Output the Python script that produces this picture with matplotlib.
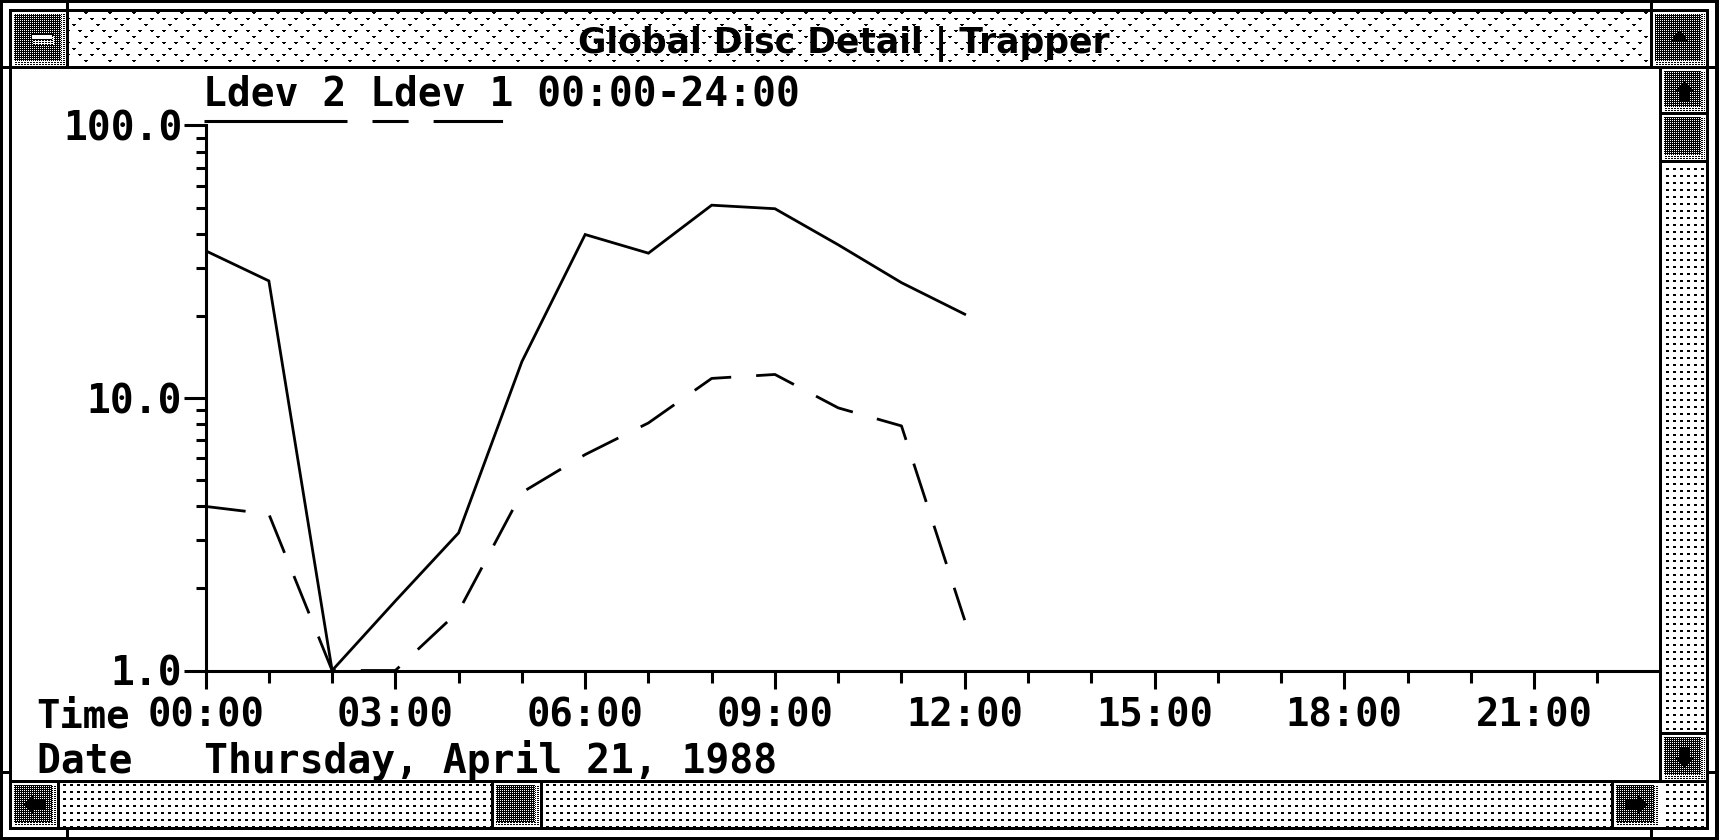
import numpy as np
import matplotlib
matplotlib.use("Agg")
import matplotlib.pyplot as plt
from matplotlib import font_manager
from matplotlib.ticker import FixedLocator, MultipleLocator, LogLocator, FuncFormatter, NullFormatter

# hourly readings (log scale 1..100)
hours = [0, 1, 2, 3, 4, 5, 6, 7, 8, 9, 10, 11, 12]
ldev2 = [34.7, 26.9, 1.0, 1.8, 3.2, 13.6, 39.8, 34.0, 51.0, 49.5, 36.5, 26.5, 20.3]
ldev1 = [4.0, 3.75, 1.0, 1.0, 1.65, 4.5, 6.2, 8.1, 11.8, 12.2, 9.2, 7.9, 1.53]

xticks = [0, 3, 6, 9, 12, 15, 18, 21]
xlabels = ["00:00", "03:00", "06:00", "09:00", "12:00", "15:00", "18:00", "21:00"]
yticks = [1.0, 10.0, 100.0]

window_title = "Global Disc Detail | Trapper"
legend_line = "Ldev 2 Ldev 1 00:00-24:00"
time_label = "Time"
date_line = "Date   Thursday, April 21, 1988"

W, H = 1719, 840

plt.rcParams['font.family'] = 'DejaVu Sans Mono'
plt.rcParams['font.weight'] = 'bold'
plt.rcParams['lines.scale_dashes'] = False

# ---- window chrome, drawn as a 1:1 bitmap ----
img = np.ones((H, W))
yy, xx = np.mgrid[0:H, 0:W]
dark = np.where((xx % 2 == 0) & (yy % 2 == 0), 1.0, 0.0)
track = np.where((xx % 7 < 3) & (yy % 7 < 2), 0.0, 1.0)
shade = np.where((yy % 2 == 0) & (xx % 3 != 2), 0.0, 1.0)
gi, gj = xx // 6, yy // 6
ox, oy = xx % 6, yy % 6
on = (gi % 4 == gj % 4) | (gi % 4 == (-gj) % 4)
tmark = on & (((oy == 0) & (ox < 4)) | ((oy == 1) & (ox >= 1) & (ox < 3)))
tdots = np.where(tmark, 0.0, 1.0)


def box(x0, x1, y0, y1, v=0.0):
    img[y0:y1, x0:x1] = v


def pattern(x0, x1, y0, y1, pat):
    img[y0:y1, x0:x1] = pat[y0:y1, x0:x1]


def button(x0, x1, y0, y1):
    box(x0, x1, y0, y1, 1.0)
    pattern(x0 + 2, x1 - 5, y0 + 2, y1 - 5, dark)
    pattern(x1 - 5, x1 - 1, y0 + 2, y1 - 1, shade)
    pattern(x0 + 2, x1 - 1, y1 - 5, y1 - 1, shade)


def arrow(tx, ty, d, head=10, tip=11, stem=0, half=5):
    if d == 'up':
        u, v = yy - ty, xx - tx
    elif d == 'down':
        u, v = ty - yy, xx - tx
    elif d == 'left':
        u, v = xx - tx, yy - ty
    else:
        u, v = tx - xx, yy - ty
    m = ((u >= 0) & (u < tip) & (np.abs(v) <= u * head / tip)) | \
        ((u >= tip) & (u < tip + stem) & (np.abs(v) < half))
    img[m] = 0.0


# frame
box(0, W, 0, 3); box(0, W, H - 3, H); box(0, 3, 0, H); box(W - 4, W, 0, H)
box(9, 1709, 9, 12); box(9, 1709, 827, 830); box(9, 12, 9, 830); box(1706, 1709, 9, 830)
for x in (66, 1650):
    box(x, x + 3, 3, 9); box(x, x + 3, 830, 837)
for y in (66, 771):
    box(3, 9, y, y + 3); box(1709, 1715, y, y + 3)

# title bar
pattern(69, 1650, 12, 66, tdots)
box(12, 1709, 66, 69)
button(12, 66, 12, 66)
box(31, 53, 34, 40); box(32, 52, 35, 39, 1.0)
pattern(33, 54, 40, 45, shade); pattern(52, 54, 36, 45, shade)
box(66, 69, 12, 66); box(1650, 1653, 12, 66)
button(1653, 1706, 12, 66)
arrow(1679, 30, 'up', head=10, tip=12)

# vertical scrollbar
box(1659, 1662, 69, 783)
button(1662, 1706, 69, 112); arrow(1684, 81, 'up', tip=10, stem=11)
box(1662, 1706, 112, 115)
button(1662, 1706, 115, 160)
box(1662, 1706, 160, 163)
pattern(1662, 1706, 163, 732, track)
box(1662, 1706, 732, 735)
button(1662, 1706, 735, 780); arrow(1684, 767, 'down', tip=10, stem=11)
box(12, 1709, 780, 783)

# horizontal scrollbar
button(12, 57, 783, 827); arrow(24, 804, 'left', tip=10, stem=11)
box(57, 60, 783, 827)
pattern(60, 491, 783, 827, track)
box(491, 494, 783, 827)
button(494, 540, 783, 827)
box(540, 543, 783, 827)
pattern(543, 1611, 783, 827, track)
box(1611, 1614, 783, 827)
button(1614, 1659, 783, 827); arrow(1646, 804, 'right', tip=10, stem=11)
pattern(1662, 1706, 783, 827, track)

fig = plt.figure(figsize=(W / 100, H / 100), dpi=100)
bg = fig.add_axes([0, 0, 1, 1])
bg.imshow(img, cmap='gray', vmin=0, vmax=1, extent=(0, W, H, 0),
          interpolation='nearest', aspect='auto')
bg.set_xlim(0, W)
bg.set_ylim(H, 0)
bg.axis('off')

# ---- the chart ----
x0, x1 = 205.6, 1659
y_top, y_bot = 125.5, 670.5
per_hour = 63.26
ax = fig.add_axes([x0 / W, (H - y_bot) / H, (x1 - x0) / W, (y_bot - y_top) / H])
ax.set_facecolor('none')
ax.set_yscale('log')
ax.set_ylim(1, 100)
ax.set_xlim(0, (x1 - x0) / per_hour)

lw = 2.0
ax.plot(hours, ldev2, color='black', lw=lw, solid_joinstyle='miter')
ax.plot(hours, ldev1, color='black', lw=lw, ls=(0, (29, 18)), dash_capstyle='butt')

for s in ('top', 'right'):
    ax.spines[s].set_visible(False)
for s in ('left', 'bottom'):
    ax.spines[s].set_linewidth(2.2)

ax.yaxis.set_major_locator(FixedLocator(yticks))
ax.yaxis.set_minor_locator(LogLocator(base=10, subs=range(2, 10)))
ax.yaxis.set_major_formatter(FuncFormatter(lambda v, p: f"{v:.1f}"))
ax.yaxis.set_minor_formatter(NullFormatter())
ax.xaxis.set_major_locator(FixedLocator(xticks))
ax.xaxis.set_minor_locator(MultipleLocator(1))
ax.set_xticklabels(xlabels)

ax.tick_params(axis='y', which='major', direction='out', length=15.8, width=2.2,
               pad=1, labelsize=28.5)
ax.tick_params(axis='y', which='minor', direction='out', length=7.2, width=2.2)
ax.tick_params(axis='x', which='major', direction='out', length=13, width=2.2,
               pad=5.5, labelsize=28)
ax.tick_params(axis='x', which='minor', direction='out', length=8.6, width=2.2)


def fpos(x, y):
    return x / W, 1 - y / H


# legend: labels with their line samples underneath
fig.text(*fpos(203, 106), legend_line, fontsize=28.5, ha='left', va='baseline')
bg.plot([204, 347], [121, 121], color='black', lw=2.2, solid_capstyle='butt')
bg.plot([372, 503], [121, 121], color='black', lw=2.2, dashes=(26, 18, 50, 60),
        dash_capstyle='butt')

fig.text(*fpos(36, 728), time_label, fontsize=28, ha='left', va='baseline')
fig.text(*fpos(37, 773), date_line, fontsize=28.5, ha='left', va='baseline')

names = {f.name for f in font_manager.fontManager.ttflist}
title_font = 'Liberation Sans Narrow' if 'Liberation Sans Narrow' in names else 'DejaVu Sans'
t = fig.text(*fpos(844, 53), window_title, family=title_font, weight='bold',
             fontsize=30, ha='center', va='baseline')
fig.canvas.draw()
tw = t.get_window_extent().width
t.set_fontsize(30 * 532 / tw)

fig.savefig('out.png', dpi=100)
